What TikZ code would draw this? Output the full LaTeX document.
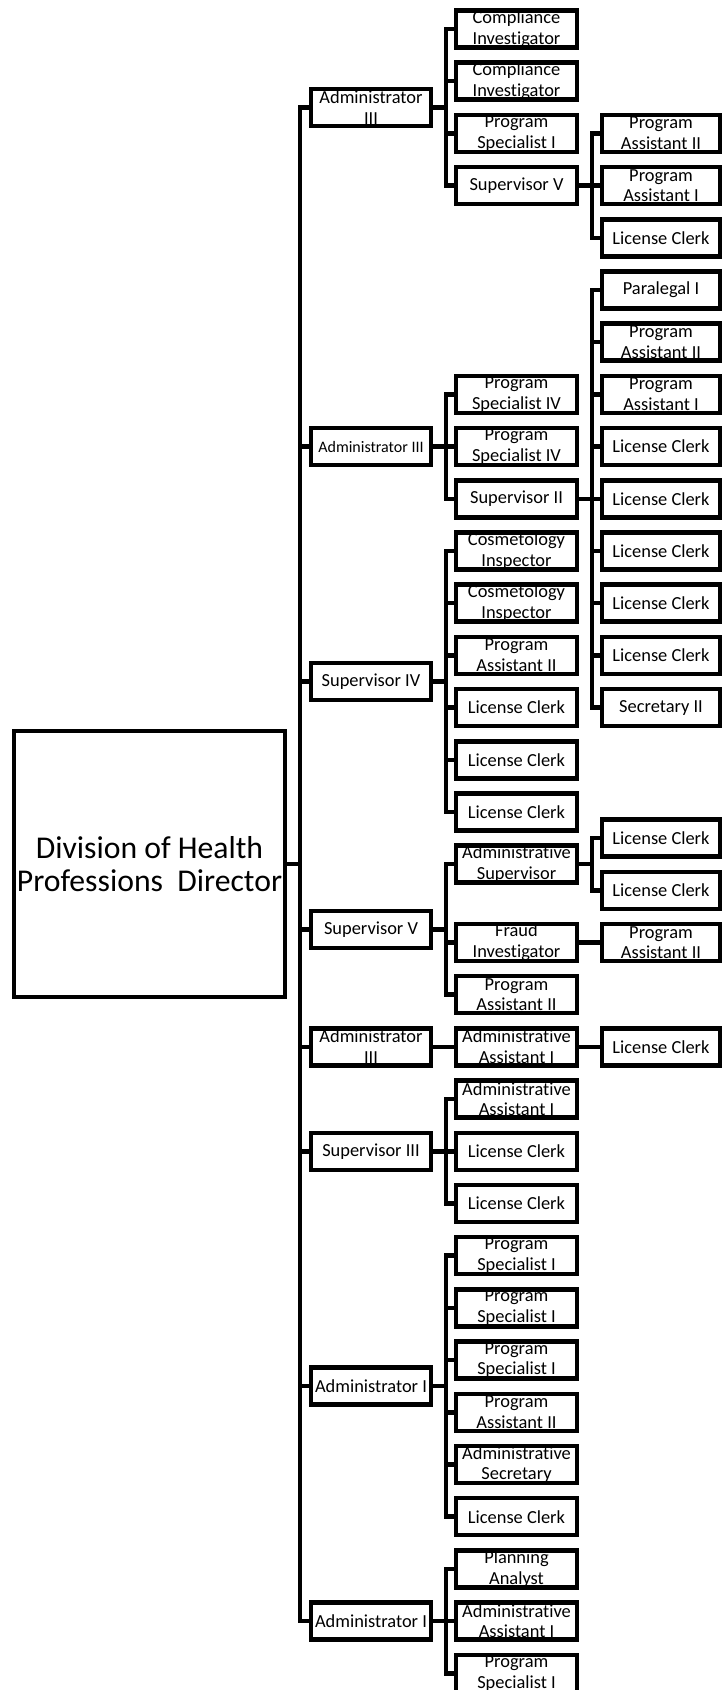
\documentclass[tikz,border=0pt]{standalone}
\usepackage{fontspec}
\setmainfont{Carlito}[Ligatures=NoCommon]
\tikzstyle{director} = [
 rectangle,
 draw,
 line width=4.5pt,
 minimum width=271pt,
 minimum height=266pt,
 inner sep=0pt,
 align=center,
 font=\fontsize{31.7}{33}\selectfont
]
\tikzstyle{post} = [
 rectangle,
 draw,
 line width=4.5pt,
 minimum width=120pt,
 minimum height=37pt,
 inner sep=0pt,
 align=center,
 font=\fontsize{18.4}{20.7}\selectfont
]
\tikzstyle{staff} = [post, minimum width=121pt]
\tikzstyle{clerk} = [post, minimum width=118pt]
\tikzstyle{link} = [line width=4.5pt]
\tikzstyle{elbow} = [to path={-- ++(12.5,0) |- (\tikztotarget)}]

\begin{document}
\begin{tikzpicture}[x=1pt, y=-52.2pt]
  \useasboundingbox (0,-0.5556) rectangle (722,31.8199);

  \node [director] (dir) at (149.5,16) {Division of Health\\Professions\ \ Director};

  \node [post] (adm1) at (371,1.5) {Administrator\\III};
  \node [post, font=\fontsize{16}{18}\selectfont] (adm2) at (371,8) {Administrator III};
  \node [post] (sup4) at (371,12.5) {Supervisor IV};
  \node [post] (sup5) at (371,17.25) {Supervisor V};
  \node [post] (adm3) at (371,19.5) {Administrator\\III};
  \node [post] (sup3) at (371,21.5) {Supervisor III};
  \node [post] (admA) at (371,26) {Administrator I};
  \node [post] (admB) at (371,30.5) {Administrator I};

  \node [staff] (comp1) at (516.5,0) {Compliance\\Investigator};
  \node [staff] (comp2) at (516.5,1) {Compliance\\Investigator};
  \node [staff] (spec1) at (516.5,2) {Program\\Specialist I};
  \node [staff] (supv) at (516.5,3) {Supervisor V};
  \node [staff] (spec4a) at (516.5,7) {Program\\Specialist IV};
  \node [staff] (spec4b) at (516.5,8) {Program\\Specialist IV};
  \node [staff] (sup2) at (516.5,9) {Supervisor II};
  \node [staff] (cosm1) at (516.5,10) {Cosmetology\\Inspector};
  \node [staff] (cosm2) at (516.5,11) {Cosmetology\\Inspector};
  \node [staff] (asst2a) at (516.5,12) {Program\\Assistant II};
  \node [staff] (lic1) at (516.5,13) {License Clerk};
  \node [staff] (lic2) at (516.5,14) {License Clerk};
  \node [staff] (lic3) at (516.5,15) {License Clerk};
  \node [staff] (admsup) at (516.5,16) {Administrative\\Supervisor};
  \node [staff] (fraud) at (516.5,17.5) {Fraud\\Investigator};
  \node [staff] (asst2b) at (516.5,18.5) {Program\\Assistant II};
  \node [staff] (aa1) at (516.5,19.5) {Administrative\\Assistant I};
  \node [staff] (aa2) at (516.5,20.5) {Administrative\\Assistant I};
  \node [staff] (lic4) at (516.5,21.5) {License Clerk};
  \node [staff] (lic5) at (516.5,22.5) {License Clerk};
  \node [staff] (spec1a) at (516.5,23.5) {Program\\Specialist I};
  \node [staff] (spec1b) at (516.5,24.5) {Program\\Specialist I};
  \node [staff] (spec1c) at (516.5,25.5) {Program\\Specialist I};
  \node [staff] (asst2c) at (516.5,26.5) {Program\\Assistant II};
  \node [staff] (admsec) at (516.5,27.5) {Administrative\\Secretary};
  \node [staff] (lic6) at (516.5,28.5) {License Clerk};
  \node [staff] (plan) at (516.5,29.5) {Planning\\Analyst};
  \node [staff] (aa3) at (516.5,30.5) {Administrative\\Assistant I};
  \node [staff] (spec1d) at (516.5,31.5) {Program\\Specialist I};

  \node [clerk] (asst2d) at (661,2) {Program\\Assistant II};
  \node [clerk] (asst1a) at (661,3) {Program\\Assistant I};
  \node [clerk] (lic7) at (661,4) {License Clerk};
  \node [clerk] (para) at (661,5) {Paralegal I};
  \node [clerk] (asst2e) at (661,6) {Program\\Assistant II};
  \node [clerk] (asst1b) at (661,7) {Program\\Assistant I};
  \node [clerk] (lic8) at (661,8) {License Clerk};
  \node [clerk] (lic9) at (661,9) {License Clerk};
  \node [clerk] (lic10) at (661,10) {License Clerk};
  \node [clerk] (lic11) at (661,11) {License Clerk};
  \node [clerk] (lic12) at (661,12) {License Clerk};
  \node [clerk] (secr) at (661,13) {Secretary II};
  \node [clerk] (lic13) at (661,15.5) {License Clerk};
  \node [clerk] (lic14) at (661,16.5) {License Clerk};
  \node [clerk] (asst2f) at (661,17.5) {Program\\Assistant II};
  \node [clerk] (lic15) at (661,19.5) {License Clerk};

  \draw [link] (dir.east) edge[elbow] (adm1.west) edge[elbow] (adm2.west)
    edge[elbow] (sup4.west) edge[elbow] (sup5.west) edge[elbow] (adm3.west)
    edge[elbow] (sup3.west) edge[elbow] (admA.west) edge[elbow] (admB.west);

  \draw [link] (adm1.east) edge[elbow] (comp1.west) edge[elbow] (comp2.west)
    edge[elbow] (spec1.west) edge[elbow] (supv.west);
  \draw [link] (adm2.east) edge[elbow] (spec4a.west) edge[elbow] (spec4b.west)
    edge[elbow] (sup2.west);
  \draw [link] (sup4.east) edge[elbow] (cosm1.west) edge[elbow] (cosm2.west)
    edge[elbow] (asst2a.west) edge[elbow] (lic1.west) edge[elbow] (lic2.west)
    edge[elbow] (lic3.west);
  \draw [link] (sup5.east) edge[elbow] (admsup.west) edge[elbow] (fraud.west)
    edge[elbow] (asst2b.west);
  \draw [link] (adm3.east) edge[elbow] (aa1.west);
  \draw [link] (sup3.east) edge[elbow] (aa2.west) edge[elbow] (lic4.west)
    edge[elbow] (lic5.west);
  \draw [link] (admA.east) edge[elbow] (spec1a.west) edge[elbow] (spec1b.west)
    edge[elbow] (spec1c.west) edge[elbow] (asst2c.west) edge[elbow] (admsec.west)
    edge[elbow] (lic6.west);
  \draw [link] (admB.east) edge[elbow] (plan.west) edge[elbow] (aa3.west)
    edge[elbow] (spec1d.west);

  \draw [link] (supv.east) edge[elbow] (asst2d.west) edge[elbow] (asst1a.west)
    edge[elbow] (lic7.west);
  \draw [link] (sup2.east) edge[elbow] (para.west) edge[elbow] (asst2e.west)
    edge[elbow] (asst1b.west) edge[elbow] (lic8.west) edge[elbow] (lic9.west)
    edge[elbow] (lic10.west) edge[elbow] (lic11.west) edge[elbow] (lic12.west)
    edge[elbow] (secr.west);
  \draw [link] (admsup.east) edge[elbow] (lic13.west) edge[elbow] (lic14.west);
  \draw [link] (fraud.east) edge[elbow] (asst2f.west);
  \draw [link] (aa1.east) edge[elbow] (lic15.west);
\end{tikzpicture}
\end{document}
